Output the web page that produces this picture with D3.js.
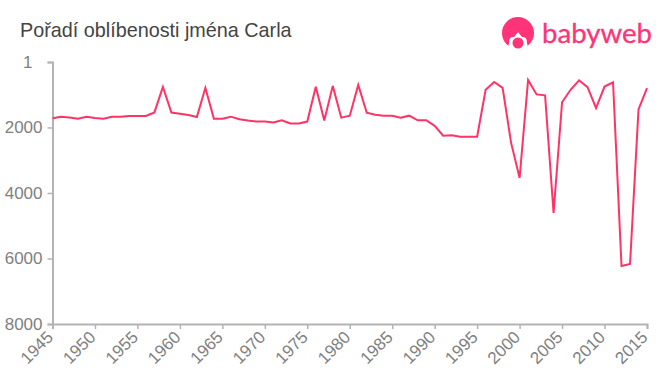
<!DOCTYPE html>
<html>
<head>
<meta charset="utf-8">
<script src="https://d3js.org/d3.v7.min.js"></script>
<style>
  html, body { margin: 0; padding: 0; background: #fff; }
  text { font-family: "Liberation Sans", Arial, sans-serif; }
</style>
</head>
<body>
<svg id="chart" width="660" height="375"></svg>
<script>
var chartTitle = "Pořadí oblíbenosti jména Carla";
var years = [1945,1946,1947,1948,1949,1950,1951,1952,1953,1954,1955,1956,1957,1958,1959,1960,1961,1962,1963,1964,
  1965,1966,1967,1968,1969,1970,1971,1972,1973,1974,1975,1976,1977,1978,1979,1980,1981,1982,1983,1984,
  1985,1986,1987,1988,1989,1990,1991,1992,1993,1994,1995,1996,1997,1998,1999,2000,2001,2002,2003,2004,
  2005,2006,2007,2008,2009,2010,2011,2012,2013,2014,2015];
var ranks = [1720,1670,1695,1735,1670,1710,1735,1670,1670,1650,1650,1650,1540,760,1545,1580,1620,1680,790,1730,
  1730,1670,1750,1790,1820,1820,1850,1780,1880,1880,1820,760,1790,730,1700,1640,700,1550,1610,1640,
  1640,1700,1640,1780,1780,1950,2250,2240,2280,2280,2280,850,610,790,2470,3540,550,990,1020,4610,
  1230,850,560,770,1410,750,620,6230,6170,1450,800];
var xTicks = [1945,1950,1955,1960,1965,1970,1975,1980,1985,1990,1995,2000,2005,2010,2015];
var yTicks = [1,2000,4000,6000,8000];

var svg = d3.select("#chart");

var x = d3.scaleLinear().domain([1945, 2015]).range([52.5, 647]);
var y = d3.scaleLinear().domain([1, 8000]).range([62, 324]);

svg.append("text")
   .attr("x", 20)
   .attr("y", 37)
   .attr("font-size", 19.8)
   .attr("fill", "#444")
   .text(chartTitle);

// axes
var xAxis = d3.axisBottom(x).tickValues(xTicks).tickFormat(d3.format("d")).tickSize(5);
var yAxis = d3.axisLeft(y).tickValues(yTicks).tickFormat(d3.format("d")).tickSize(5).tickPadding(5);

var gx = svg.append("g").attr("transform", "translate(0,324)").call(xAxis);
var gy = svg.append("g").attr("transform", "translate(52.5,0)").call(yAxis);

[gx, gy].forEach(function(g) {
  g.select(".domain").attr("stroke", "#b3b3b3").attr("stroke-width", 2);
  g.selectAll(".tick line").attr("stroke", "#b3b3b3").attr("stroke-width", 1.5);
  g.selectAll("text").attr("fill", "#808080").attr("font-size", 17).attr("font-family", '"Liberation Sans", Arial, sans-serif');
});

gx.selectAll("text")
  .attr("x", 0)
  .attr("y", 0)
  .attr("text-anchor", "end")
  .attr("dy", "0.35em")
  .attr("transform", "translate(-3,10) rotate(-45)");

// the "1" sits further left than the other labels in the original
gy.selectAll("text").filter(function(d) { return d === 1; }).attr("dx", -10);

var line = d3.line()
  .x(function(d, i) { return x(years[i]); })
  .y(function(d) { return y(d); });

svg.append("path")
   .datum(ranks)
   .attr("d", line)
   .attr("fill", "none")
   .attr("stroke", "#ff3366")
   .attr("stroke-width", 2)
   .attr("stroke-linejoin", "miter");

// logo
var logo = svg.append("g").attr("fill", "#ff3377");
logo.append("circle").attr("cx", 518).attr("cy", 33).attr("r", 16);
logo.append("path").attr("fill", "#fff")
    .attr("d", "M507 52 L509 43 Q509 36 514 37 L518 32 L522 37 Q527 36 527 43 L529 52 Z");
logo.append("circle").attr("cx", 518).attr("cy", 43).attr("r", 5.5);
logo.append("text")
    .attr("x", 542)
    .attr("y", 42.5)
    .attr("font-size", 27)
    .attr("textLength", 110)
    .attr("lengthAdjust", "spacingAndGlyphs")
    .attr("stroke", "#ff3377")
    .attr("stroke-width", 0.3)
    .style("font-family", "Lato, sans-serif")
    .text("babyweb");
</script>
</body>
</html>
